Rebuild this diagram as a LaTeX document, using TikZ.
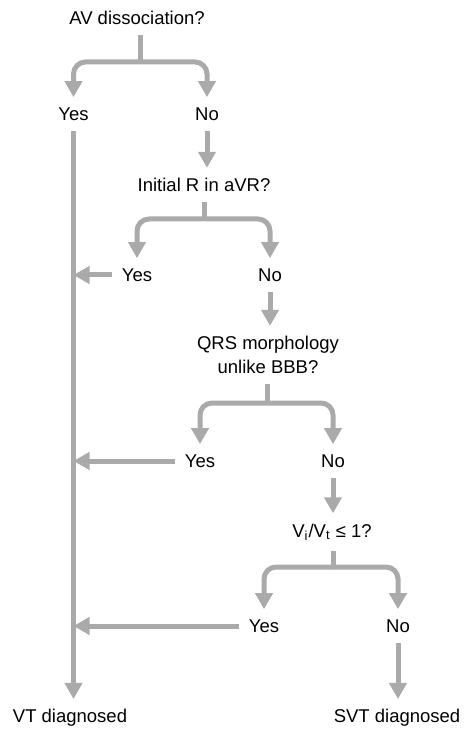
\documentclass[tikz,border=0pt]{standalone}
\usepackage{fontspec}
\setmainfont{Liberation Sans}
\usepackage{tikz}
\usetikzlibrary{arrows.meta, positioning, calc}
\definecolor{flowgray}{RGB}{170,170,170}

\begin{document}
\begin{tikzpicture}[
    x=0.5pt, y=-0.5pt,
    txt/.style={inner sep=5pt, align=center, font=\fontsize{9.25}{12}\selectfont},
    stem/.style={line width=2.5pt, draw=flowgray},
    arrow/.style={-{Triangle[width=8.5pt, length=8pt]}, line width=2.5pt, draw=flowgray, rounded corners=6pt}
]
    \useasboundingbox (0,0) rectangle (474,732);

    % Nodes
    \node[txt] (av) at (137,18) {AV dissociation?};
    \node[txt] (yes1) at (73.5,114) {Yes};
    \node[txt] (no1) at (207,114) {No};
    \node[txt] (ir) at (204,185) {Initial R in aVR?};
    \node[txt] (yes2) at (137,275) {Yes};
    \node[txt] (no2) at (270,275) {No};
    \node[txt] (qrs) at (268,355) {QRS morphology \\ unlike BBB?};
    \node[txt] (yes3) at (200,461) {Yes};
    \node[txt] (no3) at (333,461) {No};
    \node[txt] (vivt) at (332,532) {V\textsubscript{i}/V\textsubscript{t} ≤ 1?};
    \node[txt] (yes4) at (264,626) {Yes};
    \node[txt] (no4) at (398,626) {No};
    \node[txt] (vt) at (70,718) {VT diagnosed};
    \node[txt] (svt) at (397,718) {SVT diagnosed};

    % Branch points
    \coordinate (b1) at (140,62);
    \coordinate (b2) at (204,219);
    \coordinate (b3) at (267,403);
    \coordinate (b4) at (333,567);

    % Connections
    \draw[stem] (av.south -| b1) -- (b1);
    \draw[arrow] (b1) -| (yes1.north);
    \draw[arrow] (b1) -| (no1.north);
    \draw[arrow] (no1.south) -- (no1.south |- ir.north);

    \draw[stem] (ir.south -| b2) -- (b2);
    \draw[arrow] (b2) -| (yes2.north);
    \draw[arrow] (b2) -| (no2.north);
    \draw[arrow] (no2.south) -- (no2.south |- qrs.north);

    \draw[stem] (qrs.south -| b3) -- (b3);
    \draw[arrow] (b3) -| (yes3.north);
    \draw[arrow] (b3) -| (no3.north);
    \draw[arrow] (no3.south) -- (no3.south |- vivt.north);

    \draw[stem] (vivt.south -| b4) -- (b4);
    \draw[arrow] (b4) -| (yes4.north);
    \draw[arrow] (b4) -| (no4.north);
    \draw[arrow] (no4.south) -- (no4.south |- svt.north);

    % Yes answers lead to VT
    \draw[arrow] (yes1.south) -- (yes1.south |- vt.north);
    \draw[arrow] (yes2.west) -- (yes2.west -| yes1.south);
    \draw[arrow] (yes3.west) -- (yes3.west -| yes1.south);
    \draw[arrow] (yes4.west) -- (yes4.west -| yes1.south);
\end{tikzpicture}
\end{document}
